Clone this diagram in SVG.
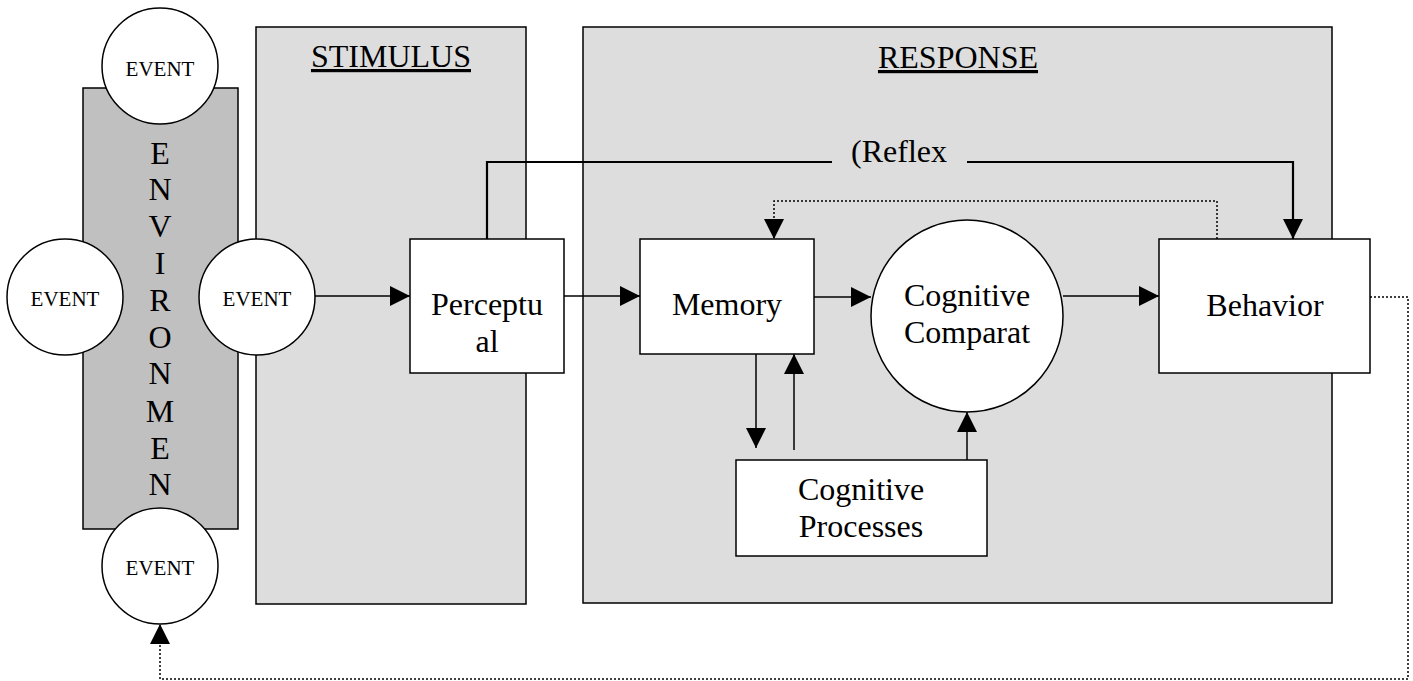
<svg xmlns="http://www.w3.org/2000/svg" width="1413" height="681" viewBox="0 0 1413 681">
<style>
text{font-family:"Liberation Serif","Times New Roman",serif;fill:#000;text-anchor:middle}
.t{font-size:32px}
.ev{font-size:21px}
.panel{fill:#dddddd;stroke:#000;stroke-width:1.5}
.env{fill:#c0c0c0;stroke:#000;stroke-width:1.5}
.box{fill:#fff;stroke:#000;stroke-width:1.5}
.c{fill:none;stroke:#000;stroke-width:1.5}
.thick{stroke-width:2.2}
.dot{fill:none;stroke:#000;stroke-width:1.5;stroke-dasharray:2 2}
</style>
<defs>
<marker id="ah" viewBox="0 0 20 20" markerWidth="20" markerHeight="20" refX="20" refY="10" orient="auto" markerUnits="userSpaceOnUse">
<path d="M0,0 L20,10 L0,20 z" fill="#000"/>
</marker>
</defs>
<rect width="1413" height="681" fill="#fff"/>
<g id="stimulus-panel">
<rect class="panel" x="256" y="27" width="270" height="577"/>
<text class="t" x="391" y="67" text-decoration="underline">STIMULUS</text>
</g>
<g id="response-panel">
<rect class="panel" x="583" y="27" width="749" height="576"/>
<text class="t" x="958" y="68" text-decoration="underline">RESPONSE</text>
</g>
<g id="environment">
<rect class="env" x="83" y="88" width="155" height="441"/>
<text class="t">
<tspan x="160" y="164">E</tspan><tspan x="160" y="200">N</tspan><tspan x="160" y="237">V</tspan><tspan x="160" y="274">I</tspan><tspan x="160" y="311">R</tspan><tspan x="160" y="348">O</tspan><tspan x="160" y="384">N</tspan><tspan x="160" y="422">M</tspan><tspan x="160" y="459">E</tspan><tspan x="160" y="495">N</tspan>
</text>
</g>
<g id="connectors">
<line class="c" x1="315" y1="296" x2="410" y2="296" marker-end="url(#ah)"/>
<line class="c" x1="564" y1="296" x2="640" y2="296" marker-end="url(#ah)"/>
<line class="c" x1="814" y1="297" x2="871" y2="297" marker-end="url(#ah)"/>
<line class="c" x1="1063" y1="296" x2="1159" y2="296" marker-end="url(#ah)"/>
<line class="c" x1="756" y1="354" x2="756" y2="448" marker-end="url(#ah)"/>
<line class="c" x1="794" y1="450" x2="794" y2="354" marker-end="url(#ah)"/>
<line class="c" x1="967" y1="460" x2="967" y2="412" marker-end="url(#ah)"/>
<path class="c thick" d="M487,239 V162 H832"/>
<path class="c thick" d="M967,162 H1293 V239" marker-end="url(#ah)"/>
<text class="t" x="899" y="162">(Reflex</text>
<path class="dot" d="M1217,239 V201 H774 V239" marker-end="url(#ah)"/>
<path class="dot" d="M1370,297 H1408 V679 H160 V624" marker-end="url(#ah)"/>
</g>
<g id="event-top">
<circle class="box" cx="160" cy="66" r="58"/>
<text class="ev" x="160" y="76">EVENT</text>
</g>
<g id="event-left">
<circle class="box" cx="65" cy="297" r="58"/>
<text class="ev" x="65" y="306">EVENT</text>
</g>
<g id="event-right">
<circle class="box" cx="257" cy="297" r="58"/>
<text class="ev" x="257" y="306">EVENT</text>
</g>
<g id="event-bottom">
<circle class="box" cx="160" cy="566" r="58"/>
<text class="ev" x="160" y="575">EVENT</text>
</g>
<g id="perceptual">
<rect class="box" x="410" y="239" width="154" height="134"/>
<text class="t" x="487" y="315">Perceptu</text>
<text class="t" x="487" y="352">al</text>
</g>
<g id="memory">
<rect class="box" x="640" y="239" width="174" height="115"/>
<text class="t" x="727" y="315">Memory</text>
</g>
<g id="cognitive-comparator">
<circle class="box" cx="967" cy="316" r="96"/>
<text class="t" x="967" y="306">Cognitive</text>
<text class="t" x="967" y="343">Comparat</text>
</g>
<g id="cognitive-processes">
<rect class="box" x="736" y="460" width="251" height="96"/>
<text class="t" x="861" y="500">Cognitive</text>
<text class="t" x="861" y="537">Processes</text>
</g>
<g id="behavior">
<rect class="box" x="1159" y="239" width="211" height="134"/>
<text class="t" x="1265" y="316">Behavior</text>
</g>
</svg>
